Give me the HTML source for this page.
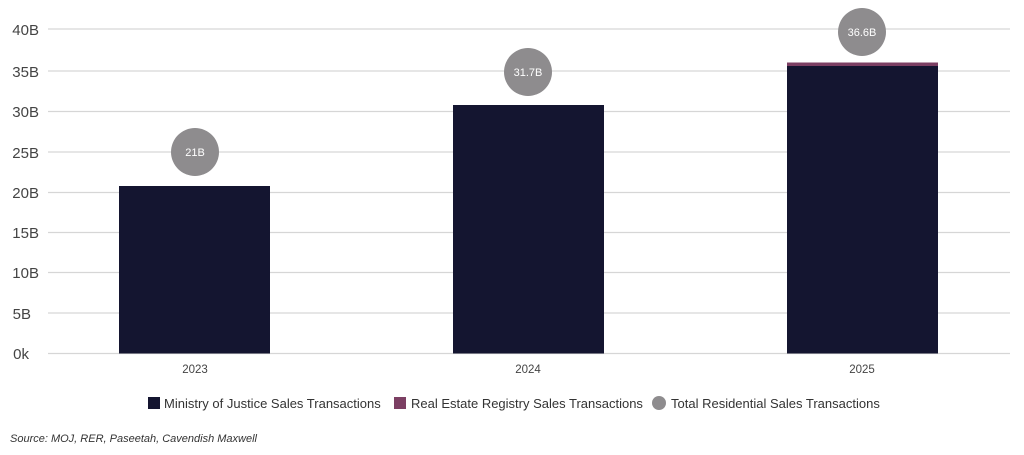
<!DOCTYPE html>
<html><head><meta charset="utf-8"><style>
body{margin:0;background:#fff;}
svg{display:block;font-family:"Liberation Sans",sans-serif;}
</style></head><body>
<svg width="1024" height="455" viewBox="0 0 1024 455" xmlns="http://www.w3.org/2000/svg">
<g stroke="#d6d6d6" stroke-width="1.2">
<line x1="48" x2="1010" y1="29" y2="29"/>
<line x1="48" x2="1010" y1="71" y2="71"/>
<line x1="48" x2="1010" y1="111.5" y2="111.5"/>
<line x1="48" x2="1010" y1="152" y2="152"/>
<line x1="48" x2="1010" y1="192.5" y2="192.5"/>
<line x1="48" x2="1010" y1="232.5" y2="232.5"/>
<line x1="48" x2="1010" y1="272.5" y2="272.5"/>
<line x1="48" x2="1010" y1="313" y2="313"/>
<line x1="48" x2="1010" y1="353.5" y2="353.5"/>
</g>
<g fill="#444" font-size="15" text-anchor="end">
<text x="39" y="35">40B</text>
<text x="39" y="77">35B</text>
<text x="39" y="117">30B</text>
<text x="39" y="158">25B</text>
<text x="39" y="198">20B</text>
<text x="39" y="238">15B</text>
<text x="39" y="278">10B</text>
<text x="31" y="319">5B</text>
<text x="29" y="359">0k</text>
</g>
<rect x="119" y="186" width="151" height="167.5" fill="#141530"/>
<rect x="453" y="105" width="151" height="248.5" fill="#141530"/>
<rect x="787" y="62.5" width="151" height="4" fill="#7c3f63"/>
<rect x="787" y="66" width="151" height="287.5" fill="#141530"/>
<g fill="#8e8c8e">
<circle cx="195" cy="152" r="24"/>
<circle cx="528" cy="72" r="24"/>
<circle cx="862" cy="32" r="24"/>
</g>
<g fill="#fff" font-size="11" text-anchor="middle">
<text x="195" y="156">21B</text>
<text x="528" y="76">31.7B</text>
<text x="862" y="36">36.6B</text>
</g>
<g fill="#444" font-size="11.5" text-anchor="middle">
<text x="195" y="373">2023</text>
<text x="528" y="373">2024</text>
<text x="862" y="373">2025</text>
</g>
<rect x="148" y="397" width="12" height="12" fill="#141530"/>
<text x="164" y="408" font-size="13" fill="#333">Ministry of Justice Sales Transactions</text>
<rect x="394" y="397" width="12" height="12" fill="#7c3f63"/>
<text x="411" y="408" font-size="13" fill="#333">Real Estate Registry Sales Transactions</text>
<circle cx="659" cy="403" r="7" fill="#8e8c8e"/>
<text x="671" y="408" font-size="13" fill="#333">Total Residential Sales Transactions</text>
<text x="10" y="442" font-size="11" font-style="italic" fill="#333">Source: MOJ, RER, Paseetah, Cavendish Maxwell</text>
</svg>
</body></html>
